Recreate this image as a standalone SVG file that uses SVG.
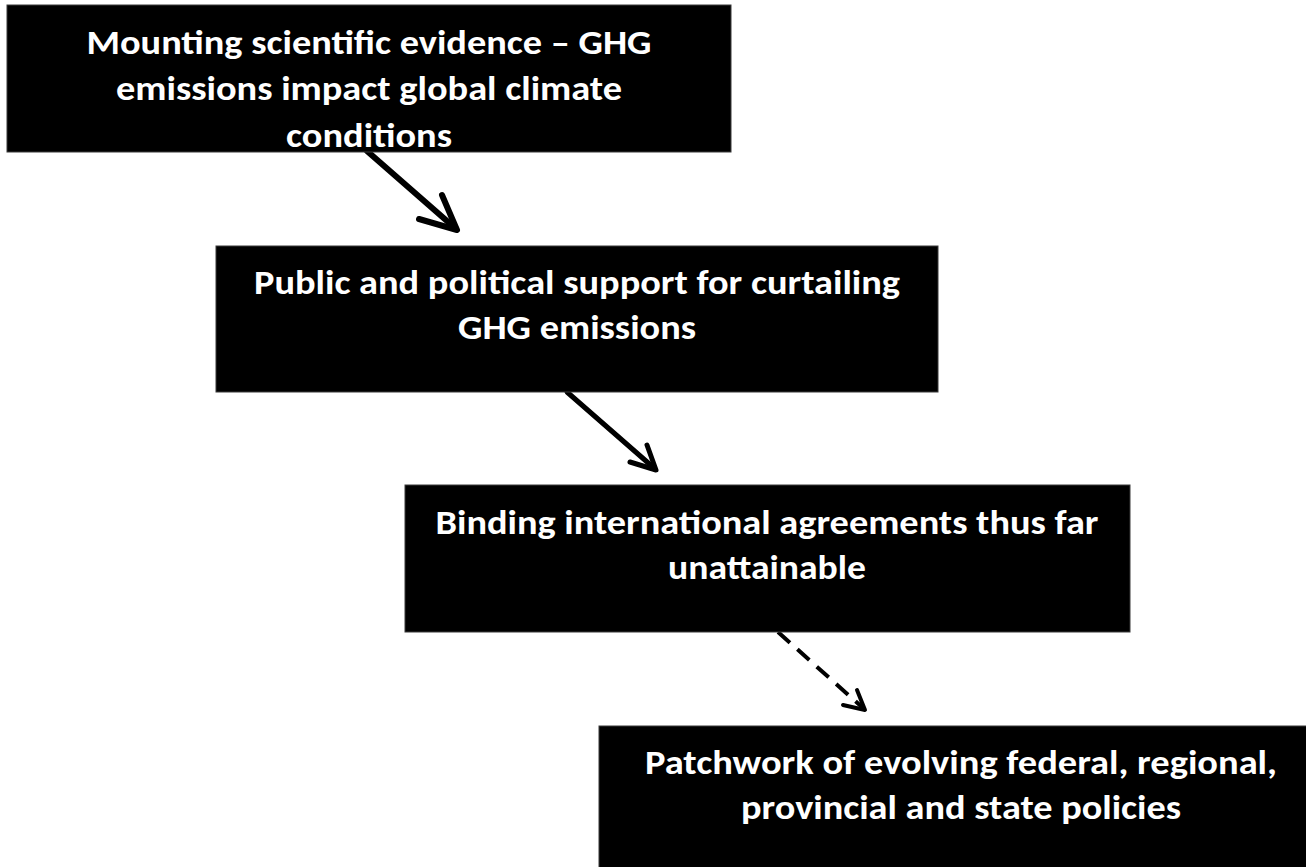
<svg xmlns="http://www.w3.org/2000/svg" width="1306" height="867" viewBox="0 0 1306 867">
<style>
.box{fill:#000;stroke:#3a3a3a;stroke-width:1}
.lbl{font-family:Carlito,Lato,"Liberation Sans",sans-serif;font-weight:bold;font-size:35px;fill:#fff;text-anchor:middle}
.conn{fill:none;stroke:#000;stroke-linecap:round;stroke-linejoin:round}
.dash{stroke-dasharray:16 10;stroke-linecap:butt}
</style>
<rect width="1306" height="867" fill="#fff"/>
<g id="connectors">
<path class="conn" stroke-width="6" d="M367,151 L455,228"/>
<path class="conn" stroke-width="6" d="M442,195 L457,230 L419,219"/>
<path class="conn" stroke-width="5" d="M567,392 L654,468"/>
<path class="conn" stroke-width="5" d="M647,445 L656,470 L630,462"/>
<path class="conn dash" stroke-width="4" d="M778,632 L863,708"/>
<path class="conn" stroke-width="4" d="M857,690 L865,710 L843,705"/>
</g>
<g id="node1">
<rect class="box" x="7" y="5" width="724" height="147"/>
<text class="lbl" x="369" y="54" textLength="565" lengthAdjust="spacingAndGlyphs">Mounting scientific evidence – GHG</text>
<text class="lbl" x="369" y="100" textLength="506" lengthAdjust="spacingAndGlyphs">emissions impact global climate</text>
<text class="lbl" x="369" y="147" textLength="166" lengthAdjust="spacingAndGlyphs">conditions</text>
</g>
<g id="node2">
<rect class="box" x="216" y="246" width="722" height="146"/>
<text class="lbl" x="577" y="294" textLength="646" lengthAdjust="spacingAndGlyphs">Public and political support for curtailing</text>
<text class="lbl" x="577" y="339" textLength="238" lengthAdjust="spacingAndGlyphs">GHG emissions</text>
</g>
<g id="node3">
<rect class="box" x="405" y="485" width="725" height="147"/>
<text class="lbl" x="767" y="534" textLength="663" lengthAdjust="spacingAndGlyphs">Binding international agreements thus far</text>
<text class="lbl" x="767" y="579" textLength="198" lengthAdjust="spacingAndGlyphs">unattainable</text>
</g>
<g id="node4">
<rect class="box" x="599" y="726" width="730" height="160"/>
<text class="lbl" x="961" y="774" textLength="632" lengthAdjust="spacingAndGlyphs">Patchwork of evolving federal, regional,</text>
<text class="lbl" x="961" y="819" textLength="440" lengthAdjust="spacingAndGlyphs">provincial and state policies</text>
</g>
</svg>
